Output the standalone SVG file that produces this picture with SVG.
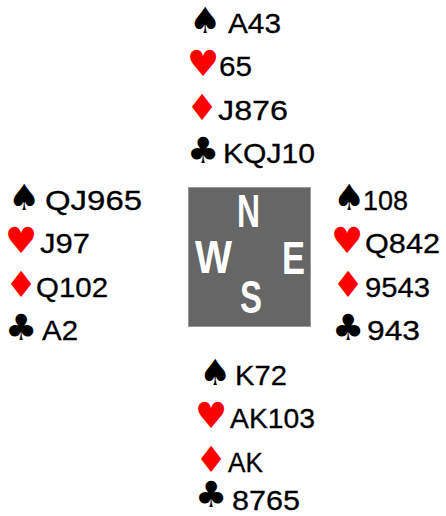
<svg xmlns="http://www.w3.org/2000/svg" width="446" height="516" viewBox="0 0 446 516">
<style>
.c{font-family:"Liberation Sans","DejaVu Sans",sans-serif;font-size:28px;fill:#000;stroke:#000;stroke-width:0.3}
.s{font-family:"DejaVu Sans",sans-serif;font-size:36px}
.k{fill:#000}
.r{fill:#ff0000}
.d{font-family:"Liberation Sans",sans-serif;font-weight:bold;font-size:46px;fill:#fff}
</style>
<rect width="446" height="516" fill="#fff"/>
<g id="north">
<text class="s k" x="189" y="33">♠</text><text class="c" x="228" y="33" textLength="53" lengthAdjust="spacingAndGlyphs">A43</text>
<text class="s r" x="187" y="76">♥</text><text class="c" x="219" y="76" textLength="33" lengthAdjust="spacingAndGlyphs">65</text>
<text class="s r" x="186" y="120">♦</text><text class="c" x="218" y="120" textLength="70" lengthAdjust="spacingAndGlyphs">J876</text>
<text class="s k" x="187" y="163">♣</text><text class="c" x="223" y="163" textLength="92" lengthAdjust="spacingAndGlyphs">KQJ10</text>
</g>
<g id="west">
<text class="s k" x="8" y="210">♠</text><text class="c" x="45" y="210" textLength="97" lengthAdjust="spacingAndGlyphs">QJ965</text>
<text class="s r" x="5" y="253">♥</text><text class="c" x="40" y="253" textLength="50" lengthAdjust="spacingAndGlyphs">J97</text>
<text class="s r" x="5" y="297">♦</text><text class="c" x="36" y="297" textLength="72" lengthAdjust="spacingAndGlyphs">Q102</text>
<text class="s k" x="5" y="340">♣</text><text class="c" x="42" y="340" textLength="36" lengthAdjust="spacingAndGlyphs">A2</text>
</g>
<g id="east">
<text class="s k" x="333" y="210">♠</text><text class="c" x="363" y="210" textLength="45" lengthAdjust="spacingAndGlyphs">108</text>
<text class="s r" x="331" y="253">♥</text><text class="c" x="365" y="253" textLength="75" lengthAdjust="spacingAndGlyphs">Q842</text>
<text class="s r" x="332" y="297">♦</text><text class="c" x="365" y="297" textLength="65" lengthAdjust="spacingAndGlyphs">9543</text>
<text class="s k" x="332" y="340">♣</text><text class="c" x="367" y="340" textLength="53" lengthAdjust="spacingAndGlyphs">943</text>
</g>
<g id="south">
<text class="s k" x="199" y="385">♠</text><text class="c" x="235" y="385" textLength="52" lengthAdjust="spacingAndGlyphs">K72</text>
<text class="s r" x="195" y="428">♥</text><text class="c" x="230" y="428" textLength="85" lengthAdjust="spacingAndGlyphs">AK103</text>
<text class="s r" x="195" y="472">♦</text><text class="c" x="228" y="472" textLength="35" lengthAdjust="spacingAndGlyphs">AK</text>
<text class="s k" x="195" y="507">♣</text><text class="c" x="232" y="510" textLength="68" lengthAdjust="spacingAndGlyphs">8765</text>
</g>
<g id="compass">
<rect x="188.5" y="187.5" width="122" height="139" fill="#666" stroke="#999" stroke-width="1"/>
<text class="d" x="237" y="227" textLength="23" lengthAdjust="spacingAndGlyphs">N</text>
<text class="d" x="195" y="273" textLength="37" lengthAdjust="spacingAndGlyphs">W</text>
<text class="d" x="282" y="274" textLength="23" lengthAdjust="spacingAndGlyphs">E</text>
<text class="d" x="240" y="313" textLength="22" lengthAdjust="spacingAndGlyphs">S</text>
</g>
</svg>
